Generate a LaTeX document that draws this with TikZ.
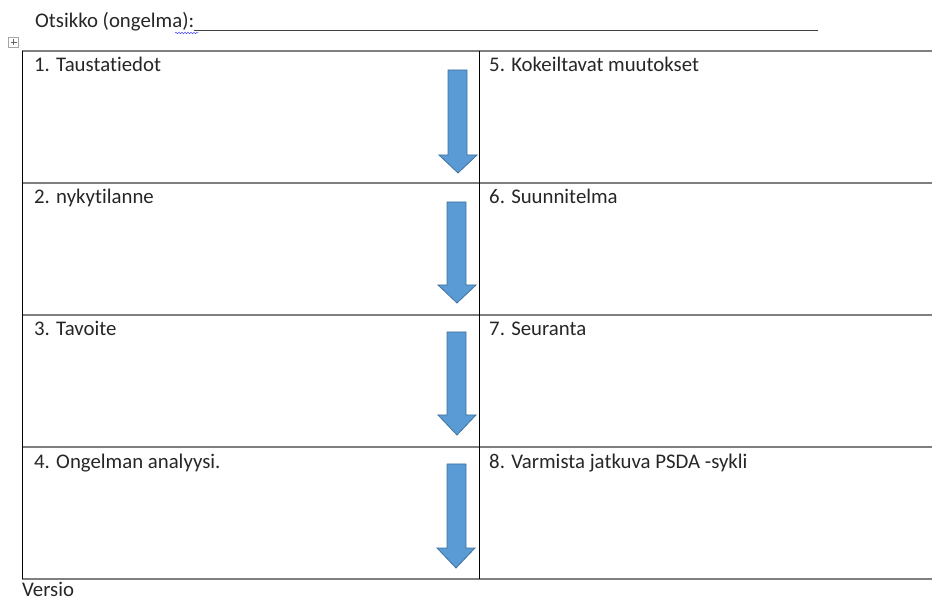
\documentclass[tikz,border=0pt]{standalone}
\usepackage{fontspec}
\setmainfont[Ligatures={NoCommon,NoContextual}]{Carlito}
\usetikzlibrary{decorations.pathmorphing}
\definecolor{arrowfill}{HTML}{5B9BD5}
\definecolor{arrowedge}{HTML}{41719C}
\definecolor{rulegray}{HTML}{7F7F7F}
\tikzset{
  cell/.style={anchor=base west, font=\fontsize{20.8}{24}\selectfont, text=black!85, inner sep=0pt},
  hrule/.style={draw=rulegray, line width=1.4pt},
  vrule/.style={draw=black, line width=0.9pt},
  downarrow/.style={fill=arrowfill, draw=arrowedge, line width=0.8pt, line join=miter}
}
% draws a block arrow pointing down: shaft x-range, head x-range, top, head base, tip
\newcommand{\downblock}[7]{%
  \path[downarrow] (#1,#5) -- (#2,#5) -- (#2,#6) -- (#4,#6) -- ({(#3+#4)/2},#7) -- (#3,#6) -- (#1,#6) -- cycle;}
\begin{document}
\begin{tikzpicture}[x=1pt,y=-1pt]
\useasboundingbox (0,0) rectangle (932,601);
% heading with fill-in line
\node[cell] (title) at (35,28) {Otsikko (ongelma):};
\draw[draw=black!75, line width=0.8pt] (title.base east) ++(0,2) coordinate (ulstart) -- (818,30) coordinate (ulend);
\draw[draw=blue!70, line width=0.5pt, decorate, decoration={snake, amplitude=0.8pt, segment length=3pt}] (175,33) -- (198,33);
% table move handle
\node[draw=black!35, line width=0.5pt, minimum size=10pt, inner sep=0pt, fill=white] (handle) at (13.5,42.5) {};
\draw[black!60, line width=0.5pt] (handle.center) ++(-3,0) -- ++(6,0) (handle.center) ++(0,-3) -- ++(0,6);
% table grid
\foreach \y in {51,183,315,447,579} \draw[hrule] (22,\y) -- (932,\y);
\draw[vrule] (22,51) -- (22,579);
\draw[vrule] (479,51) -- (479,579);
% cell labels
\node[cell] (c1) at (34,72) {1. Taustatiedot};
\node[cell] (c2) at (34,204) {2. nykytilanne};
\node[cell] (c3) at (34,336) {3. Tavoite};
\node[cell] (c4) at (34,468) {4. Ongelman analyysi.};
\node[cell] (c5) at (489,72) {5. Kokeiltavat muutokset};
\node[cell] (c6) at (489,204) {6. Suunnitelma};
\node[cell] (c7) at (489,336) {7. Seuranta};
\node[cell] (c8) at (489,468) {8. Varmista jatkuva PSDA -sykli};
% downward block arrows
\downblock{448}{467}{439}{477}{70}{155}{173}
\downblock{447}{466}{438}{476}{202}{285}{303}
\downblock{447}{466}{438}{476}{332}{415}{435}
\downblock{447}{466}{437}{475}{464}{548}{568}
% footer
\node[cell, text depth=0pt] (versio) at (22,596.5) {Versio};
\end{tikzpicture}
\end{document}
